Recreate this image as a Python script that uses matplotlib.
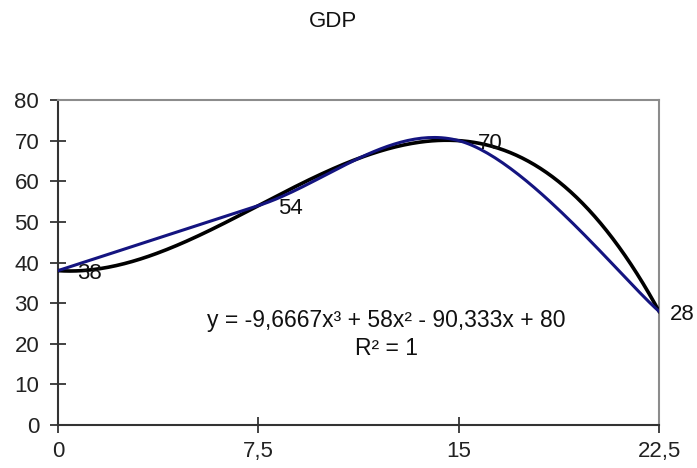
import numpy as np
import matplotlib.pyplot as plt

plt.rcParams['font.family'] = ['Liberation Sans', 'DejaVu Sans']

# data
x_vals = [0, 7.5, 15, 22.5]
gdp = [38, 54, 70, 28]
x_ticks = [0, 7.5, 15, 22.5]
x_tick_labels = ['0', '7,5', '15', '22,5']
y_ticks = [0, 10, 20, 30, 40, 50, 60, 70, 80]
# cubic trendline coefficients (Excel index x = 1..4)
coef = [-9.6667, 58, -90.333, 80]
eq_text = 'y = -9,6667x³ + 58x² - 90,333x + 80'
r2_text = 'R² = 1'


# Excel style smoothed line (bezier through the points)
def smooth(px, py, n=60):
    px = np.asarray(px, float)
    py = np.asarray(py, float)
    ex = np.concatenate([[px[0]], px, [px[-1]]])
    ey = np.concatenate([[py[0]], py, [py[-1]]])
    sx, sy = [], []
    t = np.linspace(0, 1, n)
    for i in range(1, len(px)):
        p0 = np.array([ex[i], ey[i]])
        p3 = np.array([ex[i + 1], ey[i + 1]])
        c1 = p0 + (np.array([ex[i + 1], ey[i + 1]]) - np.array([ex[i - 1], ey[i - 1]])) / 6
        c2 = p3 - (np.array([ex[i + 2], ey[i + 2]]) - np.array([ex[i], ey[i]])) / 6
        b = (np.outer((1 - t) ** 3, p0) + np.outer(3 * (1 - t) ** 2 * t, c1)
             + np.outer(3 * (1 - t) * t ** 2, c2) + np.outer(t ** 3, p3))
        sx.extend(b[:, 0])
        sy.extend(b[:, 1])
    return np.array(sx), np.array(sy)


fig = plt.figure(figsize=(6.97, 4.68), dpi=100)
ax = fig.add_axes([0.0832, 0.0919, 0.8623, 0.6944])

# trendline
step = x_vals[1] - x_vals[0]
t = np.linspace(1, len(x_vals), 300)
ax.plot((t - 1) * step, np.polyval(coef, t), color='black', lw=2.6, zorder=3)

# smoothed series
sx, sy = smooth(x_vals, gdp)
ax.plot(sx, sy, color='#141480', lw=2.2, zorder=4)

offsets = [14, 14, 14, 8]
for xv, yv, off in zip(x_vals, gdp, offsets):
    ax.annotate(str(yv), (xv, yv), xytext=(off, -2), textcoords='offset points',
                ha='left', va='center', fontsize=16, color='#111111',
                annotation_clip=False, zorder=5)

ax.text(0.546, 0.323, eq_text, transform=ax.transAxes, ha='center', va='center',
        fontsize=16.5, color='#111111')
ax.text(0.546, 0.235, r2_text, transform=ax.transAxes, ha='center', va='center',
        fontsize=16.5, color='#111111')

ax.set_xlim(0, 22.5)
ax.set_ylim(0, 80)
ax.set_xticks(x_ticks)
ax.set_xticklabels(x_tick_labels)
ax.set_yticks(y_ticks)
ax.tick_params(axis='both', direction='inout', length=11, width=1.2,
               labelsize=16, colors='#222222')
ax.tick_params(axis='y', pad=8)
ax.tick_params(axis='x', pad=6)

for s in ['left', 'bottom']:
    ax.spines[s].set_color('#333333')
    ax.spines[s].set_linewidth(1.5)
for s in ['top', 'right']:
    ax.spines[s].set_color('#8c8c8c')
    ax.spines[s].set_linewidth(1.5)

fig.text(0.478, 0.953, 'GDP', ha='center', va='center', fontsize=16, color='#111111')

fig.savefig('out.png', dpi=100)
